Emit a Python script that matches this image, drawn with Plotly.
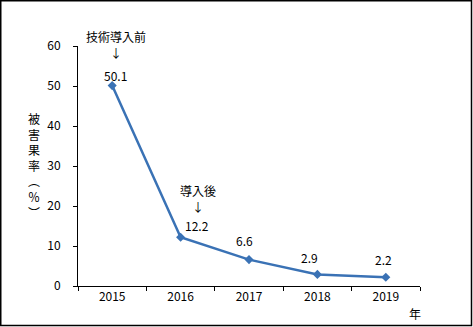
import plotly.graph_objects as go

# Damage rate by year
years = ["2015", "2016", "2017", "2018", "2019"]
damage_rate = [50.1, 12.2, 6.6, 2.9, 2.2]
y_ticks = [0, 10, 20, 30, 40, 50, 60]

# Per-label nudges (pixels) for the value labels
label_dx = [3, 16, -5, -8, -2]
label_dy = [10, 12, 19, 17, 18]

# Notes marking before / after the technology was introduced
notes = {0: "技術導入前", 1: "導入後"}
note_dy = {0: 41, 1: 39}

W, H = 473, 327
L, R, T, B = 78, 53, 46, 41
PW, PH = W - L - R, H - T - B
FONT = "Noto Sans CJK JP"
LINE = "#3a72b5"


def px_x(p):
    return (p - L) / PW


def px_y(p):
    return (H - B - p) / PH


fig = go.Figure()
fig.add_trace(go.Scatter(
    x=years, y=damage_rate, mode="lines+markers",
    line=dict(color=LINE, width=2.5),
    marker=dict(symbol="diamond", size=7, color=LINE),
    hoverinfo="skip", showlegend=False,
))

ann = []
for i, v in enumerate(damage_rate):
    # category axis: annotations are placed by category index
    ann.append(dict(x=i, y=v, text=f"{v:.1f}", showarrow=False,
                    xshift=label_dx[i], yshift=label_dy[i],
                    font=dict(size=12, color="black", family=FONT)))
    if i in notes:
        ann.append(dict(x=i, y=v, text=notes[i] + "<br>↓", showarrow=False,
                        xshift=label_dx[i] + 1, yshift=note_dy[i],
                        font=dict(size=12, color="black", family=FONT)))

# Vertical axis title, one character per line
ann.append(dict(xref="paper", yref="paper", x=px_x(34), y=px_y(165),
                text="被<br>害<br>果<br>率<br>︵<br>％<br>︶", showarrow=False,
                xanchor="center", yanchor="middle",
                font=dict(size=12, color="black", family=FONT)))
# Unit for the horizontal axis
ann.append(dict(xref="paper", yref="paper", x=px_x(415), y=px_y(313),
                text="年", showarrow=False, xanchor="center", yanchor="middle",
                font=dict(size=12, color="black", family=FONT)))

fig.update_layout(
    width=W, height=H,
    margin=dict(l=L, r=R, t=T, b=B),
    paper_bgcolor="white", plot_bgcolor="white",
    font=dict(family=FONT, size=12, color="black"),
    annotations=ann,
    shapes=[dict(type="rect", xref="paper", yref="paper",
                 x0=px_x(0.75), x1=px_x(471.5), y0=px_y(325.5), y1=px_y(0.75),
                 line=dict(color="black", width=1.5), fillcolor="rgba(0,0,0,0)")],
    xaxis=dict(type="category", range=[-0.5, len(years) - 0.5],
               tickson="boundaries", ticks="outside",
               ticklen=4, tickcolor="black", showline=True, linecolor="black",
               linewidth=1, showgrid=False, zeroline=False,
               tickfont=dict(size=12, family=FONT)),
    yaxis=dict(range=[0, 60], tickvals=y_ticks, ticks="outside", ticklen=4,
               tickcolor="black", showline=True, linecolor="black", linewidth=1,
               showgrid=False, zeroline=False, ticklabelstandoff=10,
               tickfont=dict(size=12, family=FONT)),
)

fig.write_html("out.html")
